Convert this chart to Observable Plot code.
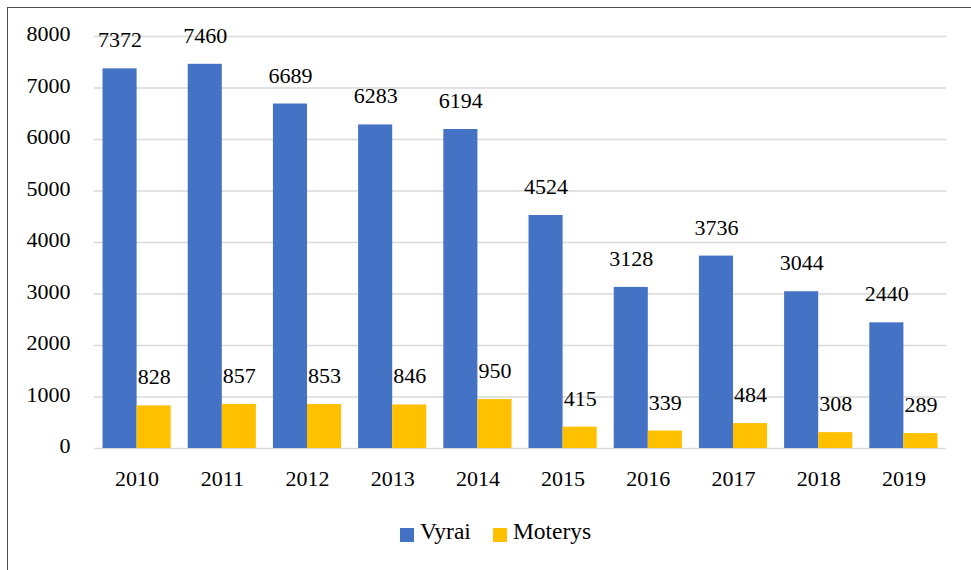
<!DOCTYPE html>
<html>
<head>
<meta charset="utf-8">
<script src="https://cdn.jsdelivr.net/npm/d3@7"></script>
<script src="https://cdn.jsdelivr.net/npm/@observablehq/plot@0.6"></script>
<style>
  html, body { margin: 0; padding: 0; background: #fff; }
  #wrap, #wrap *, #wrap svg text { font-family: "Liberation Serif", "Times New Roman", serif !important; }
  #wrap { position: relative; width: 971px; height: 570px; }
  #frame { position: absolute; left: 7px; top: 7px; width: 964px; height: 563px; border-left: 1.3px solid #4d4d4d; border-top: 1.3px solid #4d4d4d; box-sizing: border-box; }
  #chart { position: absolute; left: 0; top: 0; }
  #legend { position: absolute; left: 400px; top: 518px; display: flex; align-items: center; font-size: 23.5px; line-height: 27px; color: #000; }
  .item { display: flex; align-items: center; margin-right: 22px; }
  .sw { width: 14px; height: 14px; margin-right: 6px; position: relative; top: 3px; }
</style>
</head>
<body>
<div id="wrap">
  <div id="frame"></div>
  <div id="chart"></div>
  <div id="legend"></div>
</div>
<script>
const years = ["2010","2011","2012","2013","2014","2015","2016","2017","2018","2019"];
const vyrai = [7372, 7460, 6689, 6283, 6194, 4524, 3128, 3736, 3044, 2440];
const moterys = [828, 857, 853, 846, 950, 415, 339, 484, 308, 289];
const seriesNames = ["Vyrai", "Moterys"];
const seriesColors = ["#4472C4", "#FFC000"];
const yTicks = [0, 1000, 2000, 3000, 4000, 5000, 6000, 7000, 8000];

const W = 971, H = 500, ML = 94, MR = 25, MT = 36, MB = 52;
const padInner = 0.2, padOuter = 0.1;
const step = (W - ML - MR) / (years.length - padInner + 2 * padOuter);
const bw = step * (1 - padInner);

const dataV = years.map((y, i) => ({year: y, value: vyrai[i]}));
const dataM = years.map((y, i) => ({year: y, value: moterys[i]}));

const font = "Liberation Serif";
const fs = 22;

const chart = Plot.plot({
  width: W, height: H,
  marginLeft: ML, marginRight: MR, marginTop: MT, marginBottom: MB,
  style: {fontFamily: font, fontSize: fs + "px", color: "#000", background: "transparent", overflow: "visible"},
  x: {domain: years, type: "band", paddingInner: padInner, paddingOuter: padOuter, round: false, label: null},
  y: {domain: [0, 8000], label: null},
  marks: [
    Plot.ruleY(yTicks, {stroke: "#d9d9d9", strokeWidth: 1.5}),
    Plot.barY(dataV, {x: "year", y: "value", fill: seriesColors[0], insetRight: bw / 2, insetLeft: 0}),
    Plot.barY(dataM, {x: "year", y: "value", fill: seriesColors[1], insetLeft: bw / 2, insetRight: 0}),
    Plot.text(dataV, {x: "year", y: "value", text: d => String(d.value), dx: -bw / 4, dy: -21.5, lineAnchor: "bottom", textAnchor: "middle", fill: "#000", fontSize: fs, fontFamily: font}),
    Plot.text(dataM, {x: "year", y: "value", text: d => String(d.value), dx: bw / 4, dy: -21.5, lineAnchor: "bottom", textAnchor: "middle", fill: "#000", fontSize: fs, fontFamily: font}),
    Plot.axisY({ticks: yTicks, tickSize: 0, tickPadding: 24, tickFormat: d => String(d), fontSize: fs, fontFamily: font, dy: -2.5}),
    Plot.axisX({tickSize: 0, tickPadding: 22, fontSize: fs, fontFamily: font})
  ]
});
document.getElementById("chart").appendChild(chart);

const legend = document.getElementById("legend");
seriesNames.forEach((name, i) => {
  const it = document.createElement("div");
  it.className = "item";
  const sw = document.createElement("div");
  sw.className = "sw";
  sw.style.background = seriesColors[i];
  const t = document.createElement("span");
  t.textContent = name;
  it.appendChild(sw); it.appendChild(t);
  legend.appendChild(it);
});
</script>
</body>
</html>
